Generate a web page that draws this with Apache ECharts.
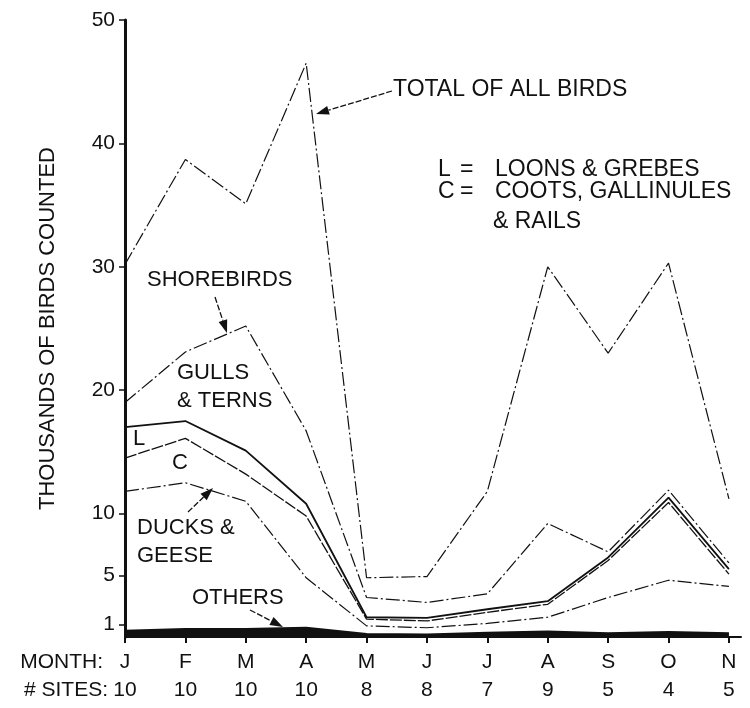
<!DOCTYPE html>
<html>
<head>
<meta charset="utf-8">
<script src="https://cdn.jsdelivr.net/npm/echarts@6/dist/echarts.min.js"></script>
<style>
  html, body { margin: 0; padding: 0; background: #ffffff; }
  #chart { width: 750px; height: 708px; }
</style>
</head>
<body>
<div id="chart"></div>
<script>
// Month initials and number of survey sites per month
const months = ['J', 'F', 'M', 'A', 'M', 'J', 'J', 'A', 'S', 'O', 'N'];
const sites = [10, 10, 10, 10, 8, 8, 7, 9, 5, 4, 5];
const yTickValues = [1, 5, 10, 20, 30, 40, 50];

// Cumulative counts in thousands of birds; each list is the upper edge of a group
const totalAllBirds = [30.2, 38.7, 35.1, 46.5, 4.8, 4.9, 11.8, 30.0, 23.0, 30.3, 11.2];
const gullsTernsTop = [19.0, 23.1, 25.2, 16.7, 3.2, 2.8, 3.5, 9.2, 6.9, 11.9, 6.0];
const loonsGrebesTop = [17.0, 17.5, 15.1, 10.8, 1.6, 1.55, 2.25, 2.9, 6.45, 11.3, 5.5];
const cootsRailsTop = [14.5, 16.1, 13.2, 9.8, 1.45, 1.3, 2.0, 2.65, 6.2, 10.9, 5.1];
const ducksGeeseTop = [11.8, 12.5, 11.0, 4.8, 0.9, 0.75, 1.1, 1.6, 3.2, 4.6, 4.1];
const othersTop = [0.5, 0.65, 0.65, 0.75, 0.25, 0.2, 0.35, 0.45, 0.3, 0.4, 0.3];

const FONT = '"Liberation Sans", Arial, Helvetica, sans-serif';
const INK = '#111111';
const DASH_DOT = [14, 3, 2, 3];

const toPoints = arr => arr.map((v, i) => [i, v]);
const monthIdx = months.map((_, i) => i);

function lineSeries(name, values, width, type) {
  return {
    name: name,
    type: 'line',
    data: toPoints(values),
    symbol: 'none',
    silent: true,
    lineStyle: { color: INK, width: width, type: type },
    z: 3
  };
}

// Straight annotation arrow with a filled head at (x2, y2)
function arrow(x1, y1, x2, y2) {
  const ang = Math.atan2(y2 - y1, x2 - x1);
  const len = 13, half = 4.5;
  const bx = x2 - len * Math.cos(ang), by = y2 - len * Math.sin(ang);
  const px = -Math.sin(ang) * half, py = Math.cos(ang) * half;
  return [
    { type: 'line', shape: { x1: x1, y1: y1, x2: bx, y2: by },
      style: { stroke: INK, lineWidth: 1.3, lineDash: [6, 2] }, z: 10 },
    { type: 'polygon', shape: { points: [[x2, y2], [bx + px, by + py], [bx - px, by - py]] },
      style: { fill: INK }, z: 10 }
  ];
}

function label(text, x, y, size, align) {
  return {
    type: 'text', x: x, y: y, z: 10,
    style: { text: text, fontFamily: FONT, fontSize: size || 22, fill: INK,
      align: align || 'left', verticalAlign: 'middle' }
  };
}

const chart = echarts.init(document.getElementById('chart'), null, { renderer: 'canvas' });

chart.setOption({
  backgroundColor: '#ffffff',
  animation: false,
  grid: { left: 125, right: 9, top: 20, bottom: 71, containLabel: false },
  xAxis: {
    type: 'value',
    min: 0,
    max: 10.2,
    interval: 1,
    splitLine: { show: false },
    axisLine: { show: true, onZero: false, lineStyle: { color: INK, width: 2 } },
    axisTick: { show: true, length: 6, lineStyle: { color: INK, width: 2 }, customValues: monthIdx },
    axisLabel: {
      customValues: monthIdx,
      margin: 11,
      formatter: v => {
        const i = Math.round(v);
        if (Math.abs(v - i) > 1e-6 || i < 0 || i >= months.length) return '';
        return '{m|' + months[i] + '}\n{s|' + sites[i] + '}';
      },
      rich: {
        m: { fontFamily: FONT, fontSize: 21, color: INK, lineHeight: 28, align: 'center' },
        s: { fontFamily: FONT, fontSize: 21, color: INK, lineHeight: 28, align: 'center' }
      }
    }
  },
  yAxis: {
    type: 'value',
    min: 0,
    max: 50,
    interval: 10,
    name: 'THOUSANDS OF BIRDS COUNTED',
    nameLocation: 'middle',
    nameGap: 66,
    nameTextStyle: { fontFamily: FONT, fontSize: 22, color: INK },
    splitLine: { show: false },
    axisLine: { show: true, lineStyle: { color: INK, width: 3 } },
    axisTick: { show: true, length: 6, lineStyle: { color: INK, width: 1.5 }, customValues: yTickValues },
    axisLabel: {
      customValues: yTickValues,
      margin: 10,
      fontFamily: FONT, fontSize: 21, color: INK
    }
  },
  series: [
    lineSeries('Total of all birds', totalAllBirds, 1.2, DASH_DOT),
    lineSeries('Gulls & terns', gullsTernsTop, 1.2, DASH_DOT),
    lineSeries('Loons & grebes', loonsGrebesTop, 1.8, 'solid'),
    lineSeries('Coots, gallinules & rails', cootsRailsTop, 1.3, [12, 2]),
    lineSeries('Ducks & geese', ducksGeeseTop, 1.2, DASH_DOT),
    {
      name: 'Others',
      type: 'line',
      data: toPoints(othersTop),
      symbol: 'none',
      silent: true,
      lineStyle: { color: INK, width: 2 },
      areaStyle: { color: INK, opacity: 1 },
      z: 4
    }
  ],
  graphic: [
    label('TOTAL OF ALL BIRDS', 393, 90, 23),
    ...arrow(392, 91, 316, 114),
    label('L', 438, 170, 23),
    label('=', 460, 170, 23),
    label('LOONS & GREBES', 495, 170, 23),
    label('C', 438, 192, 23),
    label('=', 460, 192, 23),
    label('COOTS, GALLINULES', 495, 192, 23),
    label('& RAILS', 493, 222, 23),
    label('SHOREBIRDS', 147, 280, 22),
    ...arrow(215, 297, 227, 333),
    label('GULLS', 177, 373, 22),
    label('& TERNS', 177, 401, 22),
    label('L', 133, 439, 22),
    label('C', 172, 463, 22),
    label('DUCKS &', 137, 528, 22),
    label('GEESE', 137, 556, 22),
    ...arrow(188, 512, 213, 488),
    label('OTHERS', 192, 598, 22),
    ...arrow(250, 610, 283, 627),
    label('MONTH:', 103, 662, 21, 'right'),
    label('# SITES:', 108, 690, 21, 'right')
  ]
});
</script>
</body>
</html>
